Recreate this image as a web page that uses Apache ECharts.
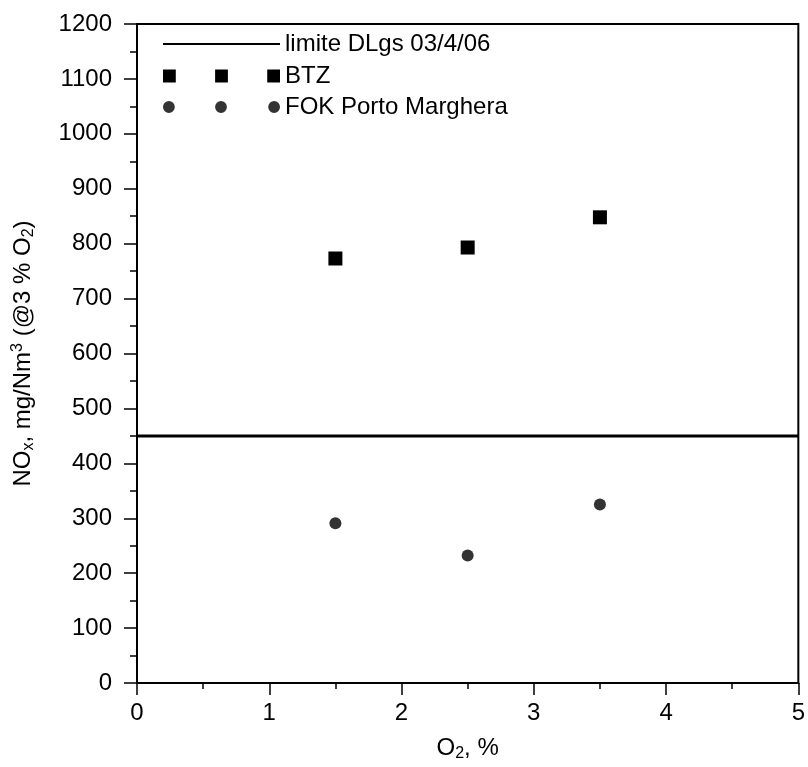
<!DOCTYPE html>
<html>
<head>
<meta charset="utf-8">
<script src="https://cdn.jsdelivr.net/npm/echarts@6/dist/echarts.min.js"></script>
<style>
  html, body { margin: 0; padding: 0; background: #fff; }
  #chart { width: 808px; height: 767px; }
</style>
</head>
<body>
<div id="chart"></div>
<script>
// O2 (%) at which both plants were measured
const o2 = [1.5, 2.5, 3.5]
// NOx, mg/Nm3 @3% O2
const btz = [773, 793, 848]
const fok = [291, 232, 325]
// legal limit line
const limitX = [0, 5]
const limitValue = 450

const limitName = 'limite DLgs 03/4/06'
const btzName = 'BTZ'
const fokName = 'FOK Porto Marghera'

const font = 'Liberation Sans, Arial, sans-serif'
const txt = { fontFamily: font, fontSize: 24, color: '#000' }
const small = { fontFamily: font, fontSize: 16, color: '#000' }

const threeSquares = 'path://M0,0h13v13h-13z M53,0h13v13h-13z M106,0h13v13h-13z'
const threeDots = 'path://M0,6a6,6 0 1,0 12,0a6,6 0 1,0 -12,0z M53,6a6,6 0 1,0 12,0a6,6 0 1,0 -12,0z M107,6a6,6 0 1,0 12,0a6,6 0 1,0 -12,0z'

const legendBase = {
  orient: 'vertical',
  left: 163,
  padding: 0,
  itemGap: 0,
  selectedMode: false,
  textStyle: txt,
}

const chart = echarts.init(document.getElementById('chart'))
chart.setOption({
  animation: false,
  backgroundColor: '#fff',
  grid: {
    left: 137,
    right: 8,
    top: 24,
    bottom: 81,
    show: true,
    borderColor: '#000',
    borderWidth: 2,
  },
  legend: [
    { ...legendBase, top: 32, itemWidth: 117, itemHeight: 2,
      data: [{ name: limitName, icon: 'rect' }] },
    { ...legendBase, top: 64, itemWidth: 117, itemHeight: 14,
      data: [{ name: btzName, icon: threeSquares }] },
    { ...legendBase, top: 95, itemWidth: 117, itemHeight: 12,
      data: [{ name: fokName, icon: threeDots }] },
  ],
  xAxis: {
    type: 'value',
    min: 0,
    max: 5,
    interval: 1,
    name: 'O{sub|2}, %',
    nameLocation: 'middle',
    nameGap: 52,
    nameTextStyle: {
      ...txt,
      rich: {
        sub: { ...small, padding: [11, 0, 0, 0] },
      },
    },
    axisLine: { onZero: false, lineStyle: { color: '#000', width: 2 } },
    axisTick: { inside: false, length: 12, lineStyle: { color: '#000', width: 1.5 } },
    minorTick: { show: true, splitNumber: 2, length: 6, lineStyle: { color: '#000', width: 1.5 } },
    axisLabel: { ...txt, margin: 18 },
    splitLine: { show: false },
  },
  yAxis: {
    type: 'value',
    min: 0,
    max: 1200,
    interval: 100,
    name: 'NO{sub|x}, mg/Nm{sup|3} (@3 % O{sub|2})',
    nameLocation: 'middle',
    nameGap: 100,
    nameTextStyle: {
      ...txt,
      rich: {
        sub: { ...small, padding: [11, 0, 0, 0] },
        sup: { ...small, padding: [0, 0, 11, 0] },
      },
    },
    axisLine: { onZero: false, lineStyle: { color: '#000', width: 2 } },
    axisTick: { inside: false, length: 13, lineStyle: { color: '#000', width: 1.5 } },
    minorTick: { show: true, splitNumber: 2, length: 7, lineStyle: { color: '#000', width: 1.5 } },
    axisLabel: { ...txt, margin: 25, formatter: (v) => String(v) },
    splitLine: { show: false },
  },
  series: [
    {
      name: limitName,
      type: 'line',
      data: limitX.map((x) => [x, limitValue]),
      symbol: 'none',
      color: '#000',
      lineStyle: { color: '#000', width: 3 },
    },
    {
      name: btzName,
      type: 'scatter',
      data: o2.map((x, i) => [x, btz[i]]),
      symbol: 'rect',
      symbolSize: 14,
      itemStyle: { color: '#000', opacity: 1 },
    },
    {
      name: fokName,
      type: 'scatter',
      data: o2.map((x, i) => [x, fok[i]]),
      symbol: 'circle',
      symbolSize: 12,
      itemStyle: { color: '#333', opacity: 1 },
    },
  ],
})
</script>
</body>
</html>
